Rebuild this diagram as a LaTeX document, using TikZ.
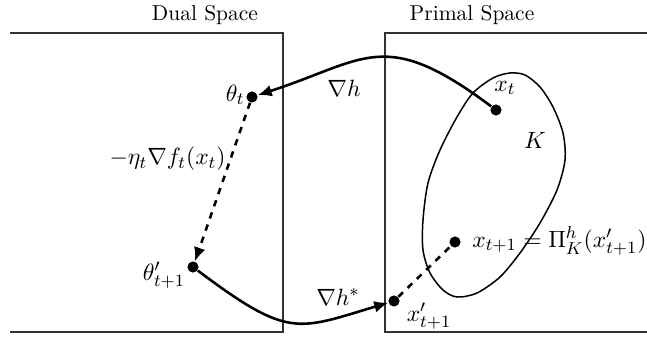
\documentclass[tikz,border=0pt]{standalone}
\usetikzlibrary{arrows.meta}
\tikzset{
  dot/.style={circle,fill=black,inner sep=0pt,minimum size=5.2pt},
  frame/.style={line width=0.5pt,draw=black!80},
  setline/.style={line width=0.7pt},
  conn/.style={line width=1.2pt},
  tip/.style={-{Latex[length=6.5pt,width=5.5pt]}},
  lbl/.style={inner sep=0pt,font=\fontsize{11.2}{13}\selectfont}
}
\begin{document}
\begin{tikzpicture}[x=0.4651pt,y=-0.4651pt]
\useasboundingbox (0,0) rectangle (647,339);
% frames
\draw[frame] (10,33) -- (283,33) -- (283,332) -- (10,332);
\draw[frame] (647,33) -- (385,33) -- (385,332) -- (647,332);
\node (dual) at (205,15) {Dual Space};
\node (primal) at (472,15) {Primal Space};
% set K
\draw[setline] plot[smooth cycle] coordinates {
  (510,73) (493,78) (473,93) (457,117) (440,150) (428,183) (423,220)
  (423,250) (430,273) (443,290) (457,297) (477,293) (500,277) (520,253)
  (540,223) (557,190) (565,160) (563,133) (553,107) (540,87) (525,75)};
% points
\node[dot] (tht) at (252,97) {};
\node[dot] (xt) at (496,110) {};
\node[dot] (thp) at (193,267) {};
\node[dot] (xp) at (394,301) {};
\node[dot] (xn) at (455,242) {};
% connectors
\draw[conn,tip] (xt) .. controls (384,26) and (366,60) .. (tht);
\draw[conn,tip] (thp) .. controls (289,339) and (297,330) .. (xp);
\draw[conn,dashed,tip] (tht) -- (thp);
\draw[conn,dashed] (xp) -- (xn);
% labels
\node[lbl,anchor=east] (lbtht) at (245,95) {$\theta_t$};
\node[lbl] (lbxt) at (505,88) {$x_t$};
\node[lbl] (lbK) at (535,140) {$K$};
\node[lbl,anchor=west] (lbxn) at (472,241) {$x_{t+1} = \Pi^h_K(x'_{t+1})$};
\node[lbl] (lbthp) at (164,275) {$\theta'_{t+1}$};
\node[lbl] (lbxp) at (429,316) {$x'_{t+1}$};
\node[lbl] (lbgh) at (344,88) {$\nabla h$};
\node[lbl] (lbghs) at (338,297) {$\nabla h^*$};
\node[lbl,anchor=east] (lbeta) at (226,159) {$-\eta_t\nabla f_t(x_t)$};
\end{tikzpicture}
\end{document}
